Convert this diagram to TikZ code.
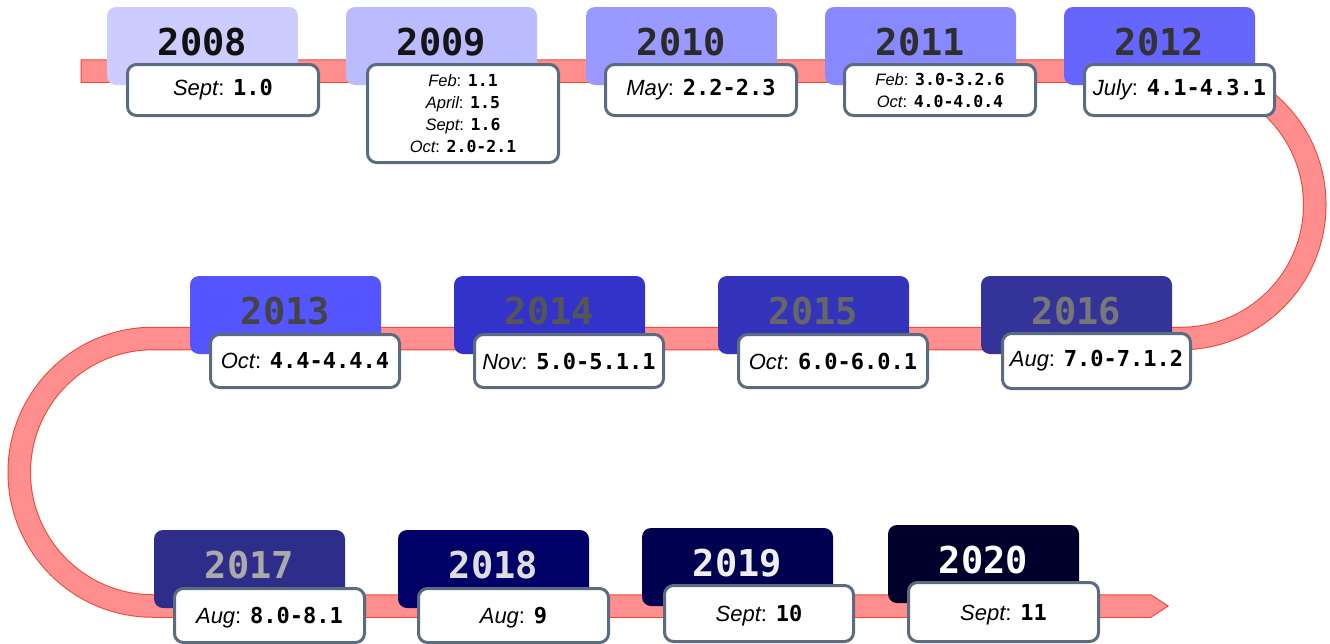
\documentclass[tikz,border=0pt]{standalone}
\usepackage{fontspec}
\newfontfamily\armfont{Liberation Sans}
\newfontfamily\codefont{DejaVu Sans Mono}

% track colours
\definecolor{trackfill}{HTML}{FF8E8E}
\definecolor{trackedge}{HTML}{EE4433}
\definecolor{boxedge}{HTML}{5B6B80}
% card fills
\definecolor{c08}{HTML}{CCCCFF}
\definecolor{c09}{HTML}{BBBBFF}
\definecolor{c10}{HTML}{9999FF}
\definecolor{c11}{HTML}{8888FF}
\definecolor{c12}{HTML}{6666FF}
\definecolor{c13}{HTML}{5555FF}
\definecolor{c14}{HTML}{3333CC}
\definecolor{c15}{HTML}{3333BB}
\definecolor{c16}{HTML}{333399}
\definecolor{c17}{HTML}{2E2E8A}
\definecolor{c18}{HTML}{000066}
\definecolor{c19}{HTML}{000050}
\definecolor{c20}{HTML}{00002A}
% year text colours
\definecolor{t08}{HTML}{111111}
\definecolor{t09}{HTML}{151515}
\definecolor{t10}{HTML}{2A2A2A}
\definecolor{t11}{HTML}{2E2E2E}
\definecolor{t12}{HTML}{333333}
\definecolor{t13}{HTML}{444444}
\definecolor{t14}{HTML}{555555}
\definecolor{t15}{HTML}{666666}
\definecolor{t16}{HTML}{777777}
\definecolor{t17}{HTML}{AAAAAA}
\definecolor{t18}{HTML}{DDDDDD}
\definecolor{t19}{HTML}{EEEEEE}
\definecolor{t20}{HTML}{FFFFFF}

\newcommand{\mon}[1]{{\armfont\itshape #1}{\armfont:}}
\newcommand{\vb}[1]{{\codefont\bfseries #1}}

\tikzset{
  card/.style={rectangle, rounded corners=9pt, draw=none,
    minimum width=191pt, minimum height=78pt, inner sep=0pt},
  yeartext/.style={font=\codefont\bfseries\fontsize{37}{40}\selectfont,
    inner sep=0pt, anchor=base},
  info/.style={rectangle, rounded corners=9pt, draw=boxedge, line width=3pt,
    fill=white, inner sep=0pt, align=center},
  infobig/.style={info, font=\fontsize{22}{26}\selectfont},
  infolow/.style={infobig, text height=21pt, text depth=4.5pt},
  infosmall/.style={info, font=\fontsize{16.5}{22}\selectfont},
}

% name, left, top, fill, text colour, year
\newcommand{\yearcard}[6]{%
  \node[card, fill=#4] (#1) at ({#2+95.5},{#3+39}) {};
  \node[yeartext, text=#5] (#1y) at ({#2+95.5},{#3+48}) {#6};
}
% name, left, top, right, bottom, style, content
\newcommand{\infobox}[7]{%
  \node[#6, minimum width={#4-#2-3}, minimum height={#5-#3-3}]
    (#1) at ({(#2+#4)/2},{(#3+#5)/2}) {#7};
}

\begin{document}
\begin{tikzpicture}[x=1pt, y=-1pt]
\useasboundingbox (0,0) rectangle (1330,643);
\clip (0,0) rectangle (1330,643);

% the winding track
\draw[trackedge, line width=23.5pt]
  (80.5,71) -- (1181,71)
  arc[start angle=90, end angle=-90, radius=133.75pt]
  -- (153,338.5)
  arc[start angle=90, end angle=270, radius=133.75pt]
  -- (1150,606);
\draw[trackfill, line width=21.5pt]
  (81.5,71) -- (1181,71)
  arc[start angle=90, end angle=-90, radius=133.75pt]
  -- (153,338.5)
  arc[start angle=90, end angle=270, radius=133.75pt]
  -- (1150,606);
% arrow head at the end of the track
\fill[trackedge] (1149,594.25) -- (1151,594.25) -- (1169,606)
  -- (1151,617.75) -- (1149,617.75) -- cycle;
\fill[trackfill] (1148,595.25) -- (1150.6,595.25) -- (1167.2,606)
  -- (1150.6,616.75) -- (1148,616.75) -- cycle;

% year cards
\yearcard{y2008}{107}{7}{c08}{t08}{2008}
\yearcard{y2009}{346}{7}{c09}{t09}{2009}
\yearcard{y2010}{586}{7}{c10}{t10}{2010}
\yearcard{y2011}{825}{7}{c11}{t11}{2011}
\yearcard{y2012}{1064}{7}{c12}{t12}{2012}
\yearcard{y2013}{190}{276}{c13}{t13}{2013}
\yearcard{y2014}{454}{276}{c14}{t14}{2014}
\yearcard{y2015}{718}{276}{c15}{t15}{2015}
\yearcard{y2016}{981}{276}{c16}{t16}{2016}
\yearcard{y2017}{154}{530}{c17}{t17}{2017}
\yearcard{y2018}{398}{530}{c18}{t18}{2018}
\yearcard{y2019}{642}{528}{c19}{t19}{2019}
\yearcard{y2020}{888}{525}{c20}{t20}{2020}

% release boxes
\infobox{r2008}{126}{63}{320}{117}{infobig}{\mon{Sept} \vb{1.0}}
\infobox{r2009}{366}{63}{560}{164}{infosmall}{%
  \mon{Feb} \vb{1.1}\\ \mon{April} \vb{1.5}\\ \mon{Sept} \vb{1.6}\\ \mon{Oct} \vb{2.0-2.1}}
\infobox{r2010}{604}{63}{798}{117}{infobig}{\mon{May} \vb{2.2-2.3}}
\infobox{r2011}{843}{63}{1037}{117}{infosmall}{%
  \mon{Feb} \vb{3.0-3.2.6}\\ \mon{Oct} \vb{4.0-4.0.4}}
\infobox{r2012}{1083}{63}{1276}{117}{infobig}{\mon{July} \vb{4.1-4.3.1}}
\infobox{r2013}{209}{333}{401}{389}{infobig}{\mon{Oct} \vb{4.4-4.4.4}}
\infobox{r2014}{473}{333}{665}{389}{infobig}{\mon{Nov} \vb{5.0-5.1.1}}
\infobox{r2015}{737}{333}{929}{389}{infobig}{\mon{Oct} \vb{6.0-6.0.1}}
\infobox{r2016}{1001}{332}{1192}{390}{infobig}{\mon{Aug} \vb{7.0-7.1.2}}
\infobox{r2017}{173}{587}{366}{644}{infolow}{\mon{Aug} \vb{8.0-8.1}}
\infobox{r2018}{417}{587}{610}{644}{infolow}{\mon{Aug} \vb{9}}
\infobox{r2019}{663}{584}{855}{643}{infolow}{\mon{Sept} \vb{10}}
\infobox{r2020}{907}{581}{1100}{643}{infolow}{\mon{Sept} \vb{11}}
\end{tikzpicture}
\end{document}
